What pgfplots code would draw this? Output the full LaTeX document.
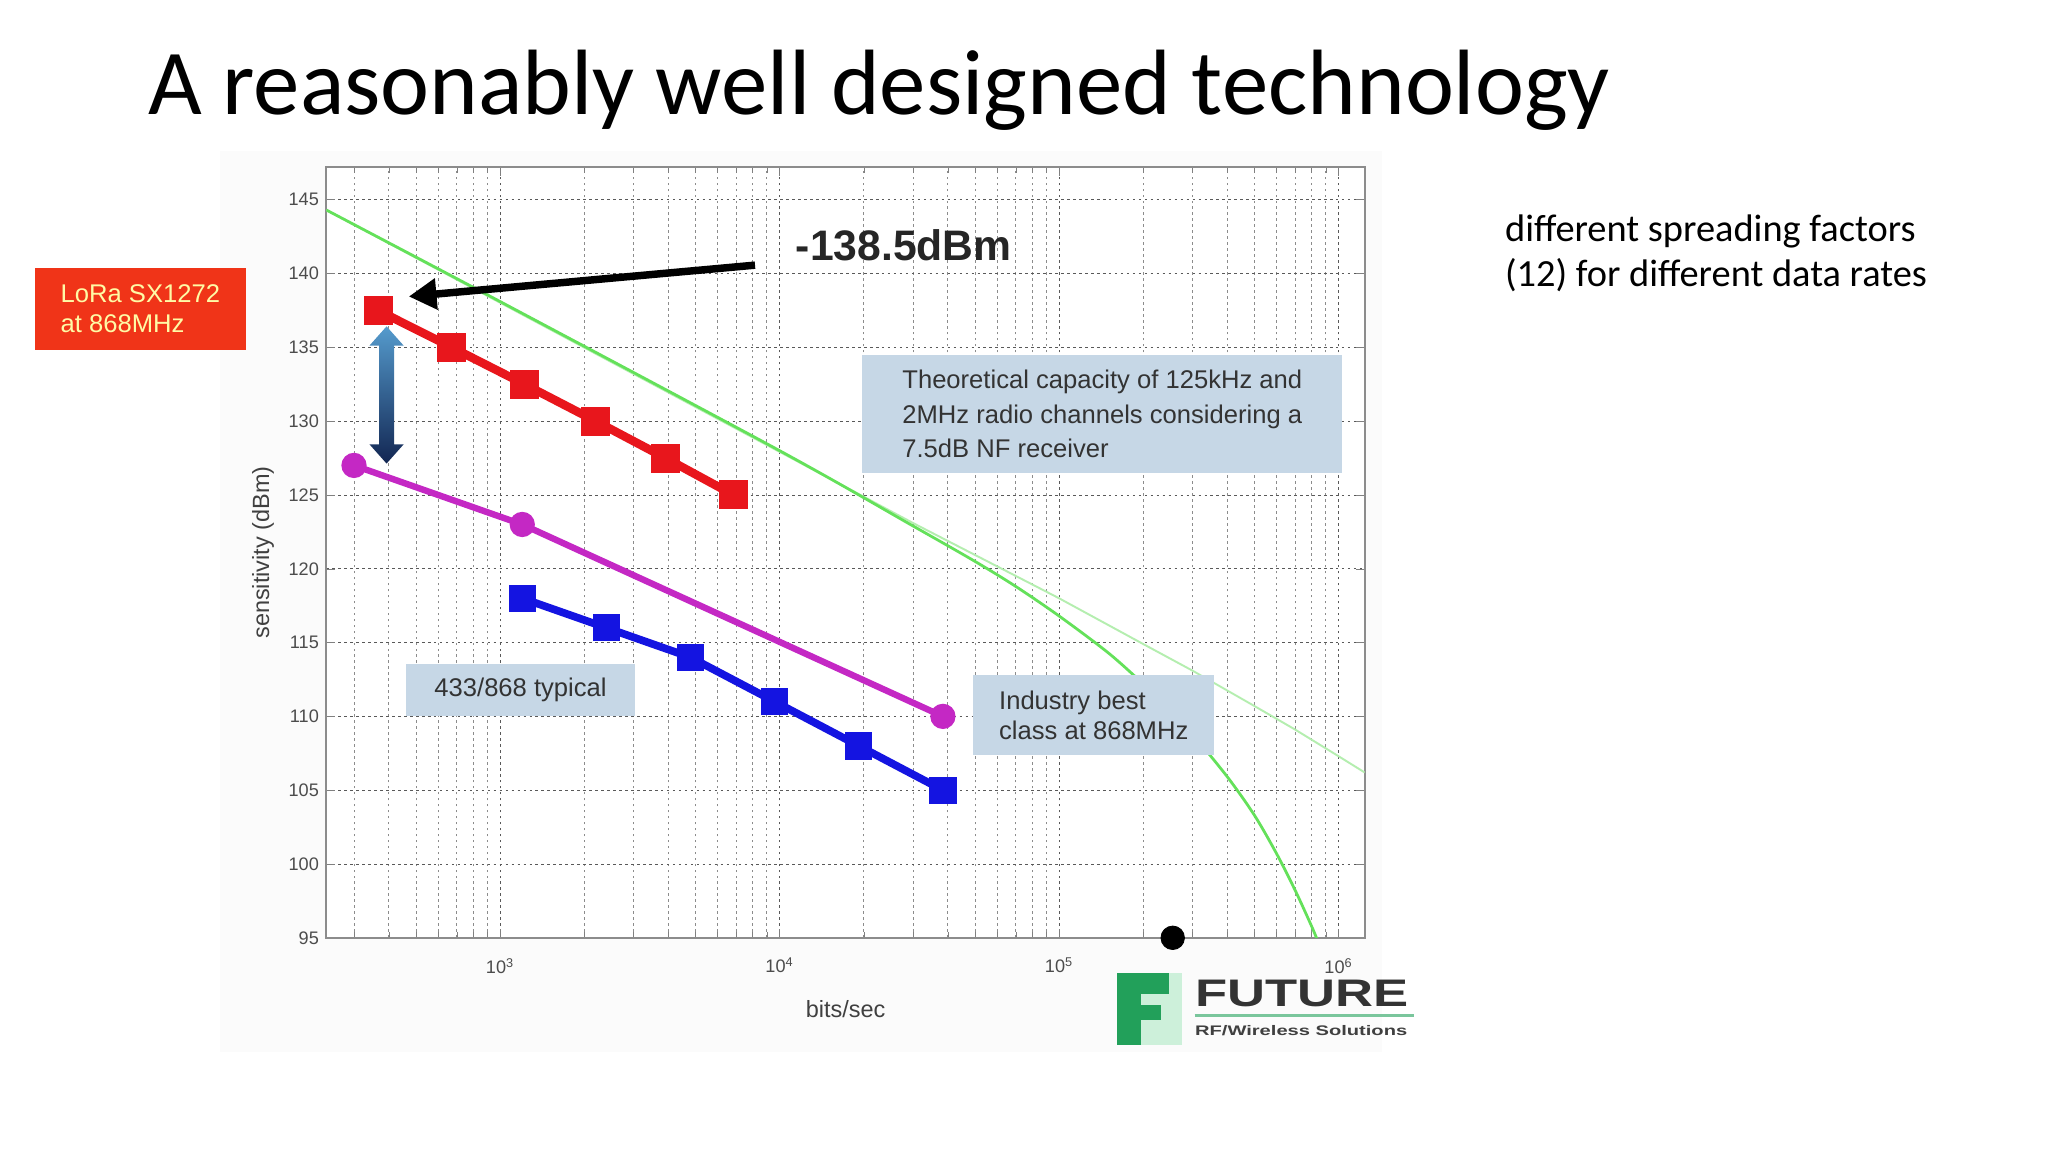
\documentclass[border=0pt]{standalone}
\usepackage{fontspec}
\setmainfont{Carlito}
\newfontfamily\arial{Liberation Sans}
\usepackage{pgfplots}
\pgfplotsset{compat=1.18}
\usetikzlibrary{arrows.meta}

\definecolor{lorared}{RGB}{232,22,28}
\definecolor{bestmag}{RGB}{196,40,196}
\definecolor{typblue}{RGB}{20,20,225}
\definecolor{theogreen}{RGB}{100,225,90}
\definecolor{theofaint}{RGB}{180,238,175}
\definecolor{boxblue}{RGB}{198,215,230}
\definecolor{boxred}{RGB}{240,52,24}
\definecolor{futgreen}{RGB}{34,160,90}
\definecolor{futmint}{RGB}{205,240,218}

% sensitivity data (dBm shown as magnitude)
\pgfplotstableread{
rate  sens
366   137.5
671   135
1221  132.5
2197  130
3906  127.5
6836  125
}\lora
\pgfplotstableread{
rate  sens
300   127
1200  123
38400 110
}\best
\pgfplotstableread{
rate  sens
1200  118
2400  116
4800  114
9600  111
19200 108
38400 105
}\typical

\begin{document}
\begin{tikzpicture}
\useasboundingbox (0,0) rectangle (960pt,540pt);
\fill[white] (0,0) rectangle (960pt,540pt);
\fill[gray!3] (103pt,47pt) rectangle (648pt,469pt);

\begin{axis}[
  at={(153pt,100.4pt)}, anchor=south west,
  width=486.7pt, height=361.2pt, scale only axis,
  xmode=log, xmin=239, xmax=1.24e6, ymin=95, ymax=147.2,
  xtick={1e3,1e4,1e5,1e6},
  minor xtick={300,400,500,600,700,800,900,2000,3000,4000,5000,6000,7000,8000,9000,
    20000,30000,40000,50000,60000,70000,80000,90000,
    200000,300000,400000,500000,600000,700000,800000,900000},
  xticklabels={10\textsuperscript{3},10\textsuperscript{4},10\textsuperscript{5},10\textsuperscript{6}},
  ytick={95,100,...,145},
  yticklabels={95,100,105,110,115,120,125,130,135,140,145},
  tick label style={font=\arial\fontsize{8.5}{10}\selectfont, text=black!70},
  xticklabel style={yshift=-6pt},
  xlabel={bits/sec}, ylabel={sensitivity (dBm)},
  xlabel style={yshift=-6pt},
  label style={font=\arial\fontsize{11}{13}\selectfont, text=black!75},
  xmajorgrids, xminorgrids, ymajorgrids,
  major grid style={dash pattern=on 1.2pt off 1.6pt, black!65},
  minor grid style={dash pattern=on 1.2pt off 1.6pt, black!45},
  axis line style={black!45, line width=1pt},
  tick align=inside, tick style={black!50},
  axis background/.style={fill=white},
]

% theoretical capacity, 2 MHz channel (faint)
\addplot[theofaint, line width=0.9pt] coordinates {
  (239,144.3) (30000,123.1) (100000,118.0) (200000,114.9) (300000,113.1)
  (500000,110.7) (700000,109.1) (1000000,107.3) (1240000,106.2)
};
% theoretical capacity, 125 kHz channel
\addplot[theogreen, line width=1.3pt, smooth] coordinates {
  (239,144.3) (1000,138.1) (10000,128.0) (30000,122.9) (50000,120.5)
  (70000,118.8) (100000,116.8) (150000,114.3) (200000,112.2) (250000,110.5)
  (300000,108.8) (400000,105.9) (500000,103.3) (600000,100.7)
  (700000,98.2) (800000,95.8) (850000,94.6)
};

\addplot[typblue, line width=3.6pt, mark=square*, mark size=4.6pt] table[x=rate,y=sens] {\typical};
\addplot[bestmag, line width=3pt, mark=*, mark size=4.4pt] table[x=rate,y=sens] {\best};
\addplot[lorared, line width=4pt, mark=square*, mark size=4.8pt] table[x=rate,y=sens] {\lora};

\addplot[black, only marks, mark=*, mark size=5.5pt] coordinates {(255000,95)};
\end{axis}

% annotations
\node[fill=boxred, minimum width=98.6pt, minimum height=38.6pt, align=left,
  text=yellow!35, font=\arial\fontsize{12}{14}\selectfont] at (65.8pt,395.2pt)
  {LoRa SX1272\\at 868MHz};

\node[font=\arial\bfseries\fontsize{20}{24}\selectfont, text=black!85] at (423.6pt,424.9pt) {-138.5dBm};
\draw[black, line width=3.5pt, -{Triangle[length=13pt,width=14pt]}] (353.9pt,415.7pt) -- (191.6pt,401pt);

% shaded double arrow
\shade[top color={rgb,255:red,85;green,155;blue,205}, bottom color={rgb,255:red,18;green,38;blue,82}]
  (177.7pt,331.7pt) -- (173.2pt,331.7pt) -- (181.2pt,322.7pt) -- (189.2pt,331.7pt)
  -- (184.7pt,331.7pt) -- (184.7pt,378pt) -- (189.2pt,378pt) -- (181.2pt,387pt)
  -- (173.2pt,378pt) -- (177.7pt,378pt) -- cycle;

\node[fill=boxblue, minimum width=225pt, minimum height=55pt, align=left,
  font=\arial\fontsize{12}{16}\selectfont, text=black!80] at (516.7pt,346pt)
  {Theoretical capacity of 125kHz and\\2MHz radio channels considering a\\7.5dB NF receiver};
\node[fill=boxblue, minimum width=107pt, minimum height=24.5pt,
  font=\arial\fontsize{12}{14}\selectfont, text=black!80] at (244pt,216.7pt) {433/868 typical};
\node[fill=boxblue, minimum width=113pt, minimum height=37.4pt, align=left,
  font=\arial\fontsize{12}{14}\selectfont, text=black!80] at (512.7pt,204.8pt)
  {Industry best\\class at 868MHz};

% logo
\fill[futmint] (523.4pt,50.2pt) rectangle (554pt,84pt);
\fill[futgreen] (523.4pt,50.2pt) rectangle (535pt,84pt);
\fill[futgreen] (523.4pt,74pt) rectangle (548pt,84pt);
\fill[futgreen] (523.4pt,62pt) rectangle (544pt,69pt);
\node[anchor=base west, inner sep=0pt, text=black!80,
  font=\arial\bfseries\fontsize{18}{20}\selectfont] at (560pt,68pt) {\scalebox{1.37}[1]{FUTURE}};
\draw[futgreen!60, line width=1pt] (560pt,64pt) -- (663pt,64pt);
\node[anchor=base west, inner sep=0pt, text=black!75,
  font=\arial\bfseries\fontsize{6.5}{8}\selectfont] at (560pt,54.5pt) {\scalebox{1.45}[1]{RF/Wireless Solutions}};

% slide text
\node[anchor=base west, inner sep=0pt, font=\fontsize{43.5}{52}\selectfont] at (69.2pt,486.1pt)
  {A reasonably well designed technology};
\node[anchor=base west, inner sep=0pt, font=\fontsize{18}{22}\selectfont] at (705.3pt,426.7pt)
  {different spreading factors};
\node[anchor=base west, inner sep=0pt, font=\fontsize{18}{22}\selectfont] at (705.3pt,405.9pt)
  {(12) for different data rates};
\end{tikzpicture}
\end{document}
